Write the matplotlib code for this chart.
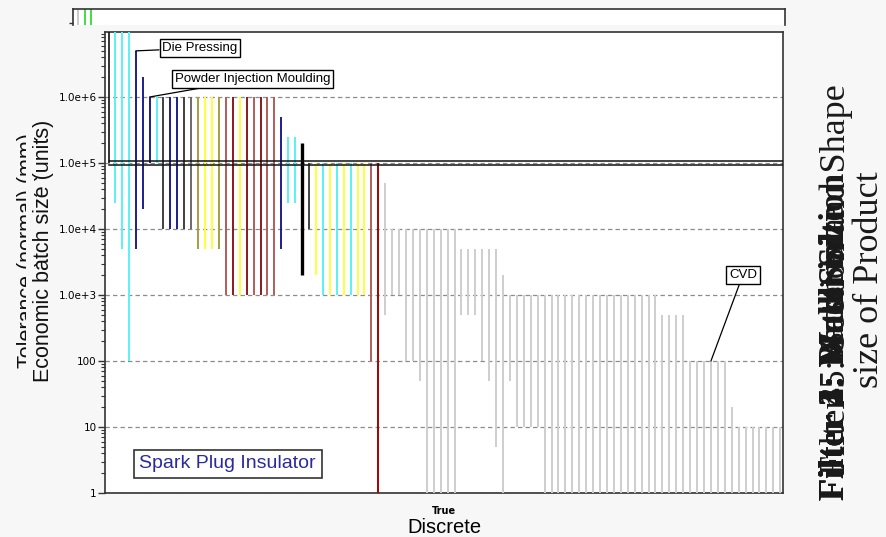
import matplotlib
matplotlib.use("Agg")
import matplotlib.pyplot as plt
from matplotlib.patches import Rectangle
import numpy as np

# ---------------- data ----------------
# colour keys
palette = {
    "C": "#5af2f2",   # cyan
    "N": "#1e1e8c",   # navy
    "K": "#404040",   # dark grey
    "G": "#6a6a6a",   # grey
    "O": "#a3a040",   # olive
    "Y": "#ffff38",   # yellow
    "B": "#b05c5c",   # brown
    "R": "#8b1a1a",   # dark red
    "RR": "#a80000",  # red
    "BK": "#000000",  # black
    "L": "#cecece",   # light grey
}

bar_low = ([2.5e4, 5e3, 100, 5e3, 2e4, 1e5, 1e5, 1e4, 1e4, 1e4, 1e4, 1e4,
            5e3, 5e3, 5e3, 5e3, 1e3, 1e3, 1e3, 1e3, 1e3, 1e3, 1e3, 1e3,
            5e3, 2.5e4, 2.5e4, 2e3, 1e4, 2e3, 1e3, 1e3, 1e3, 1e3, 1e3, 1e3, 1e3,
            100, 1, 500, 1e3, 1e3, 100, 100, 50]
           + [1] * 5 + [500] * 3 + [100, 50, 5, 1, 50] + [10] * 4
           + [1] * 17 + [1] * 4 + [1] * 6 + [1] + [1] * 7)

bar_high = ([1e7, 1e7, 1e7, 5e6, 2e6, 1e6, 1e6, 1e6, 1e6, 1e6, 1e6, 1e6,
             1e6, 1e6, 1e6, 1e6, 1e6, 1e6, 1e6, 1e6, 1e6, 1e6, 1e6, 1e6,
             5e5, 2.5e5, 2.5e5, 2e5, 1e5, 1e5, 1e5, 1e5, 1e5, 1e5, 1e5, 1e5, 1e5,
             1e5, 1e5, 5e4, 1e4, 1e4, 1e4, 1e4, 1e4]
            + [1e4] * 5 + [5e3] * 3 + [5e3, 5e3, 5e3, 2e3, 1e3] + [1e3] * 4
            + [1e3] * 17 + [500] * 4 + [100] * 6 + [20] + [10] * 7)

bar_color = (["C", "C", "C", "N", "N", "N", "C", "K", "N", "N", "K", "G",
              "O", "Y", "Y", "O", "B", "R", "Y", "R", "B", "R", "B", "B",
              "N", "C", "C", "BK", "K", "Y", "C", "Y", "C", "Y", "C", "Y", "Y",
              "B", "RR"] + ["L"] * 58)

tolerance_x = [0.75, 1.7, 2.5]
tolerance_color = ["#c8c8c8", "#33dd33", "#33dd33"]

selection_min = 1e5
ytick_vals = [1, 10, 100, 1e3, 1e4, 1e5, 1e6]
ytick_labels = ["1", "10", "100", "1.0e+3", "1.0e+4", "1.0e+5", "1.0e+6"]
annotations = [("Die Pressing", 3), ("Powder Injection Moulding", 5), ("CVD", 86)]

# ---------------- figure ----------------
W, H = 886, 537
BG = "#f7f7f7"
fig = plt.figure(figsize=(W / 100, H / 100), dpi=100, facecolor=BG)


def fx(px):
    return px / W


def fy(py):
    return 1 - py / H


# top small axes (tolerance)
axt = fig.add_axes([fx(73), fy(25), fx(785) - fx(73), fy(9) - fy(25)])
axt.set_facecolor("white")
axt.set_xlim(0, 100)
axt.set_ylim(0, 1)
axt.vlines(tolerance_x, 0, 1, colors=tolerance_color, lw=1.3)
axt.spines["bottom"].set_visible(False)
for s in ("top", "left", "right"):
    axt.spines[s].set_linewidth(1.2)
    axt.spines[s].set_color("#333333")
axt.set_xticks([])
axt.set_yticks([0.15])
axt.set_yticklabels([""])
axt.tick_params(axis="y", length=3, width=1, color="#333333")

# main axes
ax = fig.add_axes([fx(105), fy(493), fx(783) - fx(105), fy(32) - fy(493)])
ax.set_facecolor("white")
n = len(bar_low)
x = np.arange(n)
ax.set_yscale("log")
ax.set_ylim(1, 10 ** 6.985)
ax.set_xlim(-1.44, 96.4)

ax.yaxis.grid(True, which="major", linestyle=(0, (3.5, 2.5)), color="#8c8c8c", lw=0.9)
ax.set_axisbelow(True)

lws = [2.4 if c == "BK" else 1.4 for c in bar_color]
ax.vlines(x, bar_low, bar_high, colors=[palette[c] for c in bar_color], lw=lws, zorder=3)

# selection box at the threshold
ax.axhline(selection_min * 1.075, color="#111111", lw=1.1, zorder=4, xmin=0.006)
ax.axhline(selection_min * 0.93, color="#111111", lw=1.1, zorder=4, xmin=0.006)
ax.vlines([-0.9], selection_min, 10 ** 6.985, colors="#111111", lw=1.2, zorder=4)

for s in ("top", "bottom", "left", "right"):
    ax.spines[s].set_linewidth(1.2)
    ax.spines[s].set_color("#333333")

ax.set_yticks(ytick_vals)
ax.set_yticklabels(ytick_labels)
ax.yaxis.set_minor_locator(matplotlib.ticker.LogLocator(base=10, subs=np.arange(2, 10)))
ax.yaxis.set_minor_formatter(matplotlib.ticker.NullFormatter())
ax.tick_params(axis="y", which="major", length=5, width=1, labelsize=7.5, pad=1,
               color="#333333")
ax.tick_params(axis="y", which="minor", length=3, width=0.8, color="#333333")
ax.set_xticks([(ax.get_xlim()[0] + ax.get_xlim()[1]) / 2])
ax.set_xticklabels(["True"], fontsize=7, fontweight="bold")
ax.tick_params(axis="x", length=0, pad=9)
ax.set_xlabel("Discrete", fontsize=14.5, family="Liberation Sans", labelpad=2)

# y labels (one partly hidden behind the other)
fig.text(fx(28), fy(251), "Tolerance (normal) (mm)", rotation=90,
         ha="center", va="center", fontsize=15.5, family="Liberation Sans",
         color="#111111", zorder=1)
cover = Rectangle((fx(26), fy(420)), fx(34) - fx(26), fy(90) - fy(420),
                  transform=fig.transFigure, facecolor=BG, edgecolor="none",
                  zorder=2)
fig.add_artist(cover)
fig.text(fx(44), fy(251), "Economic batch size (units)", rotation=90,
         ha="center", va="center", fontsize=15.5, family="Liberation Sans",
         color="#111111", zorder=3)

# annotations
box = dict(boxstyle="square,pad=0.2", fc="white", ec="black", lw=1)
offsets = {"Die Pressing": (19, 2, "left"),
           "Powder Injection Moulding": (18, 13, "left"),
           "CVD": (23, 62, "center")}
for label, idx in annotations:
    dx, dy, ha = offsets[label]
    ax.annotate(label, xy=(x[idx], bar_high[idx]), xytext=(dx, dy),
                textcoords="offset points", ha=ha, va="center",
                fontsize=9.5, family="Liberation Sans", bbox=box, zorder=6,
                arrowprops=dict(arrowstyle="-", color="black", lw=0.9,
                                shrinkA=0, shrinkB=0))

ax.text(0.181, 0.063, "Spark Plug Insulator", transform=ax.transAxes,
        ha="center", va="center", fontsize=14, family="Liberation Sans",
        color="#2a2aa0", zorder=6,
        bbox=dict(boxstyle="square,pad=0.3", fc="white", ec="#333333", lw=1.2))

# overlapping slide titles on the right
bold_titles = ["Filter 1: Material", "Filter 2: Mass", "Filter 3: Wall Section",
               "Filter 4: Batch Size"]
for t in bold_titles:
    fig.text(fx(835), fy(500), t, rotation=90, ha="center", va="bottom",
             fontsize=26, family="Liberation Serif", fontweight="bold",
             color="#1a1a1a")
fig.text(fx(853), fy(280), "Filter 5: Section and Shape\nsize of Product",
         rotation=90, ha="center", va="center", multialignment="center",
         fontsize=26, family="Liberation Serif", color="#1a1a1a", linespacing=1.0)

fig.savefig("out.png", dpi=100, facecolor=fig.get_facecolor())
